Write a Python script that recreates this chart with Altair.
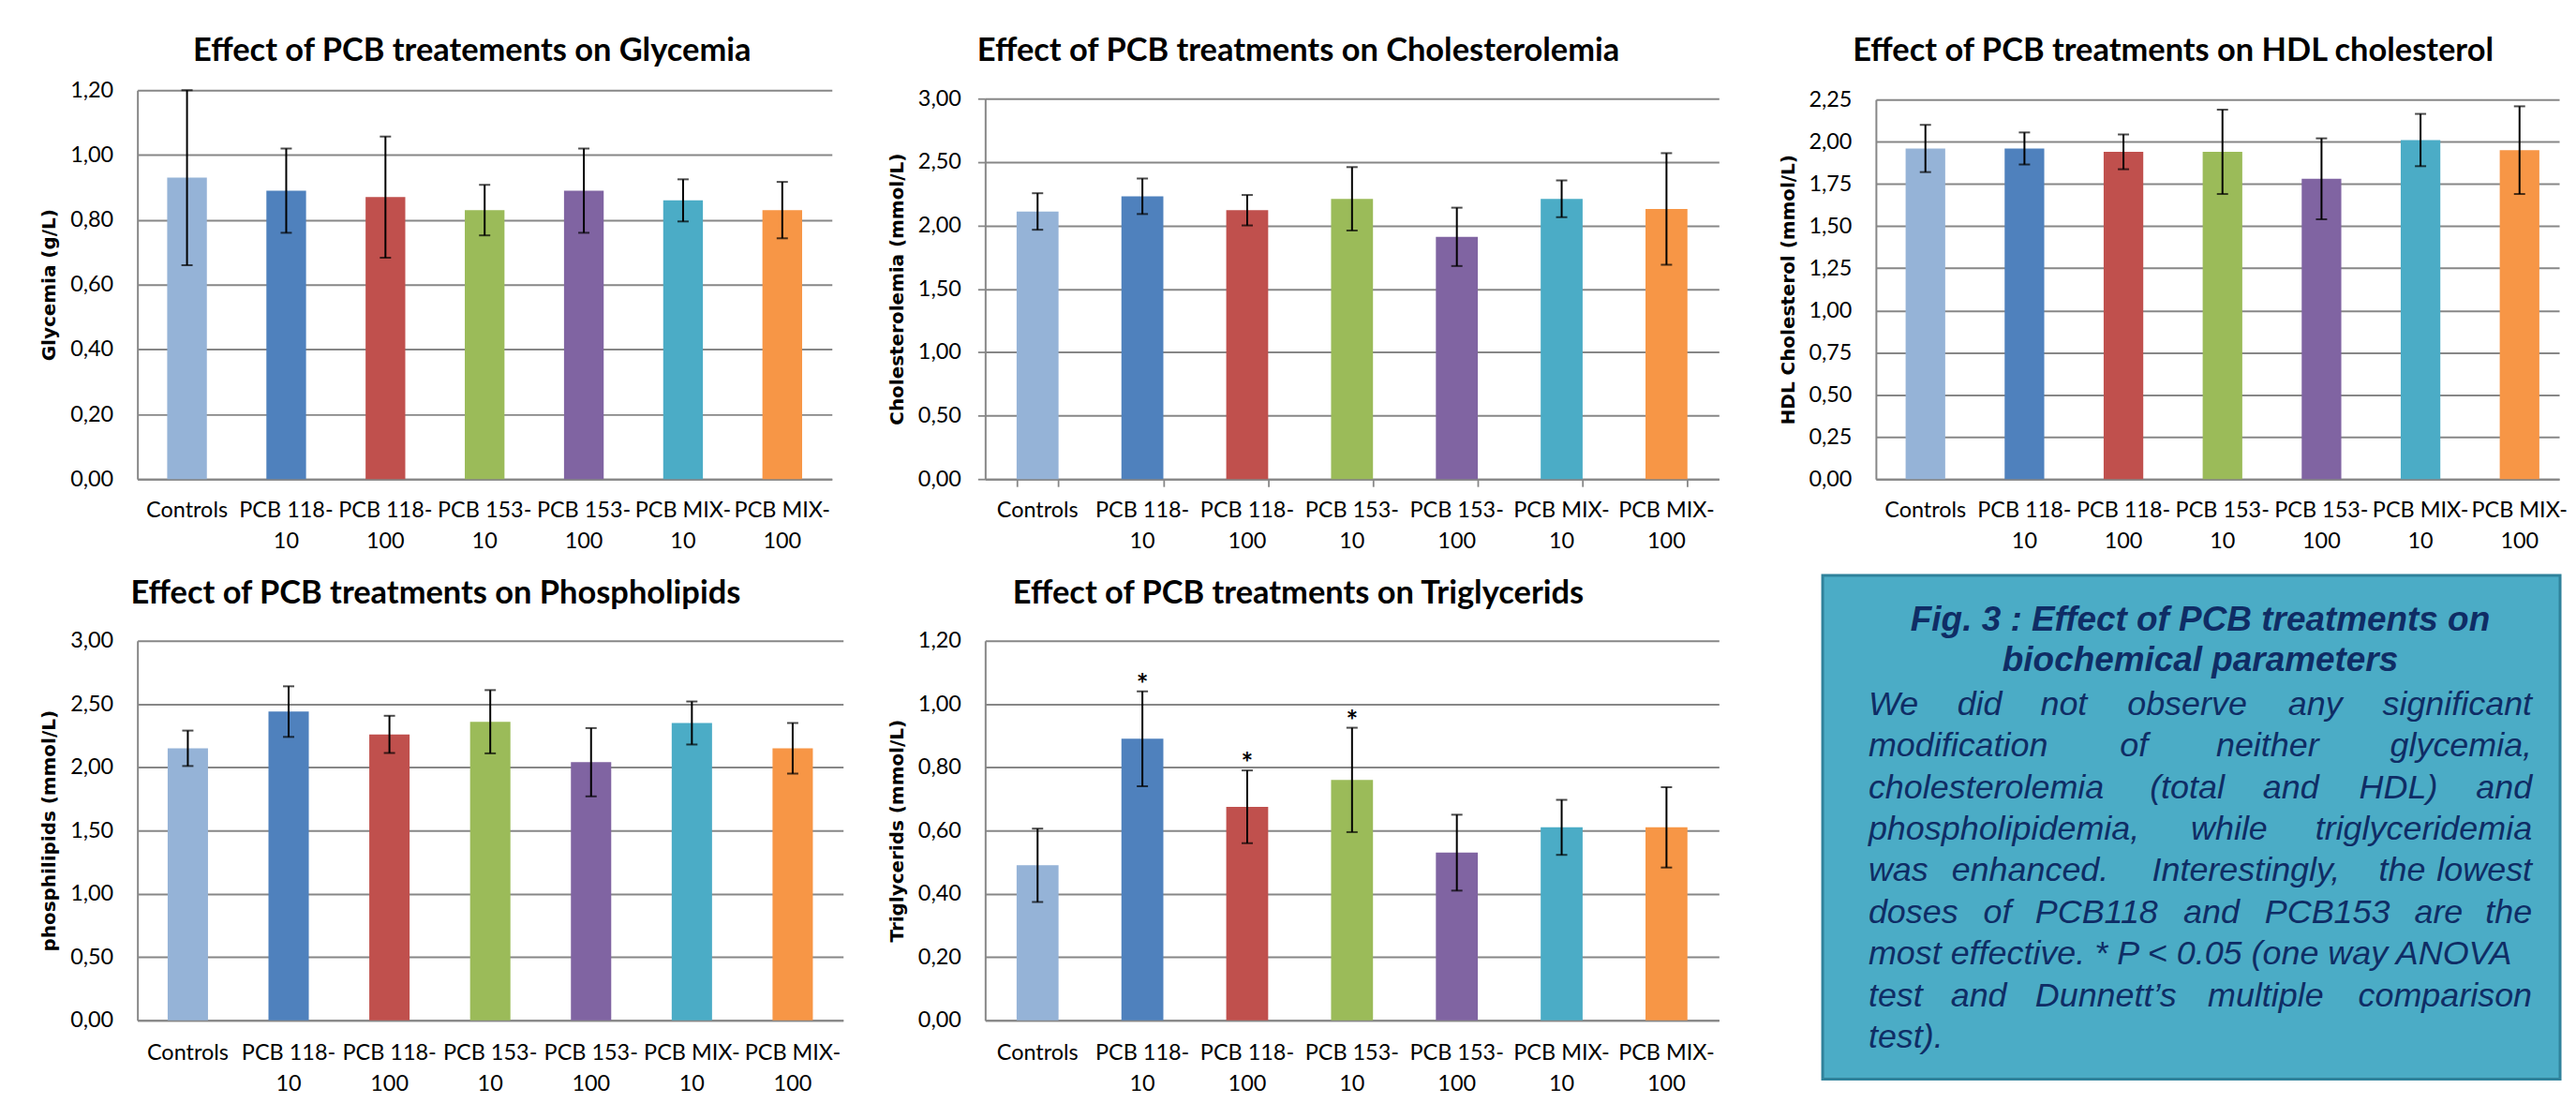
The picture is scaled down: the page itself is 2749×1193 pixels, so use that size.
import altair as alt
import pandas as pd

# ---------------- data ----------------
CATS = ["Controls", "PCB 118-10", "PCB 118-100", "PCB 153-10",
        "PCB 153-100", "PCB MIX-10", "PCB MIX-100"]
COLORS = ["#95B3D7", "#4F81BD", "#C0504D", "#9BBB59", "#8064A2", "#4BACC6", "#F79646"]

GLY_MEAN = [0.93, 0.89, 0.87, 0.83, 0.89, 0.86, 0.83]
GLY_ERR = [0.27, 0.13, 0.187, 0.078, 0.13, 0.065, 0.087]
GLY_TICKS = [0.0, 0.2, 0.4, 0.6, 0.8, 1.0, 1.2]

CHOL_MEAN = [2.11, 2.23, 2.12, 2.21, 1.91, 2.21, 2.13]
CHOL_ERR = [0.144, 0.14, 0.12, 0.25, 0.23, 0.145, 0.44]
CHOL_TICKS = [0.0, 0.5, 1.0, 1.5, 2.0, 2.5, 3.0]

HDL_MEAN = [1.96, 1.96, 1.94, 1.94, 1.78, 2.01, 1.95]
HDL_ERR = [0.14, 0.095, 0.103, 0.25, 0.24, 0.155, 0.26]
HDL_TICKS = [0.0, 0.25, 0.5, 0.75, 1.0, 1.25, 1.5, 1.75, 2.0, 2.25]

PHO_MEAN = [2.15, 2.44, 2.26, 2.36, 2.04, 2.35, 2.15]
PHO_ERR = [0.14, 0.2, 0.147, 0.25, 0.27, 0.17, 0.2]
PHO_TICKS = [0.0, 0.5, 1.0, 1.5, 2.0, 2.5, 3.0]

TRI_MEAN = [0.49, 0.89, 0.675, 0.76, 0.53, 0.61, 0.61]
TRI_ERR = [0.116, 0.15, 0.115, 0.165, 0.12, 0.087, 0.127]
TRI_STAR = [False, True, True, True, False, False, False]
TRI_TICKS = [0.0, 0.2, 0.4, 0.6, 0.8, 1.0, 1.2]

BOX_TITLE = ["Fig. 3 : Effect of PCB treatments on", "biochemical parameters"]
BOX_LINES = [
    ["We", "did", "not", "observe", "any", "significant"],
    ["modification", "of", "neither", "glycemia,"],
    ["cholesterolemia", "(total", "and", "HDL)", "and"],
    ["phospholipidemia,", "while", "triglyceridemia"],
    ["was", "enhanced.", "Interestingly,", "the", "lowest"],
    ["doses", "of", "PCB118", "and", "PCB153", "are", "the"],
    ["most effective. * P < 0.05 (one way ANOVA"],
    ["test", "and", "Dunnett\u2019s", "multiple", "comparison"],
    ["test)."],
]

# ---------------- layout / style ----------------
# word anchor x positions (page px) for the justified caption
WORD_X = [
    [1999, 2118, 2208, 2340, 2477, 2709],
    [1999, 2283, 2426, 2709],
    [1999, 2340, 2451, 2566, 2709],
    [1999, 2385, 2709],
    [1999, 2172, 2403, 2570, 2709],
    [1999, 2137, 2243, 2366, 2490, 2609, 2709],
    [1999],
    [1999, 2117, 2253, 2424, 2709],
    [1999],
]
LINE_Y0 = 765
LINE_DY = 44.6
BOX_X0, BOX_Y0 = 2007, 686   # page origin of the caption view

FONT = "Lato"
YFONT = "DejaVu Sans"
TXTFONT = "Liberation Sans"
GRID = "#878787"
TXT = "#0f2d65"
LABEL_SIZE = 23.5

COMMA = "replace(format(datum.value, '.2f'), '.', ',')"


def split_label(s):
    k = s.find("-")
    if k < 0:
        return s, ""
    return s[:k + 1], s[k + 1:]


def panel(title, ytitle, means, errs, ticks, width, height, title_dx, title_offset,
          lab_dy, yrange=None, xrange=None, tick_marks=False, stars=None,
          x_po=0.3, x_align=0.5):
    df = pd.DataFrame({
        "cat": CATS,
        "val": means,
        "lo": [m - e for m, e in zip(means, errs)],
        "hi": [m + e for m, e in zip(means, errs)],
        "star": stars if stars else [False] * len(CATS),
        "l1": [split_label(s)[0] for s in CATS],
        "l2": [split_label(s)[1] for s in CATS],
    })
    xs = dict(paddingInner=0.6, paddingOuter=x_po, align=x_align)
    if xrange:
        xs["range"] = xrange
    xscale = alt.Scale(**xs)
    ys = dict(domain=[ticks[0], ticks[-1]], nice=False, zero=True)
    if yrange:
        ys["range"] = yrange
    yscale = alt.Scale(**ys)
    tsize = 8 if tick_marks else 0
    xaxis = alt.Axis(title=None, labels=False,
                     ticks=tick_marks, tickSize=tsize, tickBand="extent",
                     tickColor=GRID, tickWidth=1.8,
                     domainColor=GRID, domainWidth=2, grid=False)
    yaxis = alt.Axis(title=ytitle, titleFont=YFONT, titleFontSize=20,
                     titleFontWeight="bold", titleColor="black",
                     titleX=-94, titleBaseline="middle",
                     values=ticks, labelExpr=COMMA, labelFont=FONT,
                     labelFontSize=LABEL_SIZE,
                     labelColor="black", labelPadding=26 - tsize,
                     ticks=tick_marks, tickSize=tsize, tickColor=GRID, tickWidth=1.8,
                     grid=True, gridColor=GRID, gridWidth=2,
                     domainColor=GRID, domainWidth=2)
    X = alt.X("cat:N", sort=CATS, scale=xscale, axis=xaxis)
    base = alt.Chart(df)
    bars = base.mark_bar().encode(
        x=X,
        y=alt.Y("val:Q", scale=yscale, axis=yaxis),
        color=alt.Color("cat:N", scale=alt.Scale(domain=CATS, range=COLORS), legend=None),
    )
    rule = base.mark_rule(color="black", strokeWidth=2).encode(
        x=X, y=alt.Y("lo:Q", scale=yscale, axis=yaxis), y2="hi:Q")
    cap_hi = base.mark_tick(color="black", thickness=2, size=12, orient="horizontal").encode(
        x=X, y=alt.Y("hi:Q", scale=yscale, axis=yaxis))
    cap_lo = base.mark_tick(color="black", thickness=2, size=12, orient="horizontal").encode(
        x=X, y=alt.Y("lo:Q", scale=yscale, axis=yaxis))
    lab1 = base.mark_text(font=FONT, fontSize=LABEL_SIZE, color="black",
                          baseline="middle").encode(
        x=X, y=alt.value(height + lab_dy[0]), text="l1:N")
    lab2 = base.mark_text(font=FONT, fontSize=LABEL_SIZE, color="black",
                          baseline="middle").encode(
        x=X, y=alt.value(height + lab_dy[1]), text="l2:N")
    layers = [bars, rule, cap_hi, cap_lo, lab1, lab2]
    if stars:
        st = base.transform_filter(alt.datum.star).mark_text(
            text="*", font=FONT, fontSize=30, fontWeight="bold", color="black",
            baseline="alphabetic", dy=3).encode(
            x=X, y=alt.Y("hi:Q", scale=yscale, axis=yaxis))
        layers.append(st)
    return alt.layer(*layers).properties(
        width=width, height=height,
        title=alt.TitleParams(text=title, font=FONT, fontSize=34.5, fontWeight="bold",
                              color="black", anchor="middle", frame="group",
                              dx=title_dx, offset=title_offset, baseline="middle"),
    )


g = panel("Effect of PCB treatements on Glycemia", "Glycemia (g/L)",
          GLY_MEAN, GLY_ERR, GLY_TICKS, 743, 416, -13.5, -5, (34, 67))
c = panel("Effect of PCB treatments on Cholesterolemia", "Cholesterolemia (mmol/L)",
          CHOL_MEAN, CHOL_ERR, CHOL_TICKS, 801, 416, -65.5, 4, (34, 67),
          yrange=[416, 9], xrange=[0, 785], tick_marks=True)
h = panel("Effect of PCB treatments on HDL cholesterol", "HDL Cholesterol (mmol/L)",
          HDL_MEAN, HDL_ERR, HDL_TICKS, 731, 416, -47.5, 5, (34, 67),
          yrange=[416, 10], x_po=0.25, x_align=0.6)
p = panel("Effect of PCB treatments on Phospholipids", "phosphilipids (mmol/L)",
          PHO_MEAN, PHO_ERR, PHO_TICKS, 755, 406, -58.5, 3.5, (35, 68))
t = panel("Effect of PCB treatments on Triglycerids", "Triglycerids (mmol/L)",
          TRI_MEAN, TRI_ERR, TRI_TICKS, 785, 406, -57.5, 3.5, (35, 68), stars=TRI_STAR)

# ---------------- caption box ----------------
rows = []
for i, (words, xs) in enumerate(zip(BOX_LINES, WORD_X)):
    for j, (w, x) in enumerate(zip(words, xs)):
        if j == 0:
            a = "left"
        elif j == len(words) - 1:
            a = "right"
        else:
            a = "center"
        rows.append({"t": w, "x": x - BOX_X0, "y": LINE_Y0 + i * LINE_DY - BOX_Y0, "a": a})
words_df = pd.DataFrame(rows)
title_df = pd.DataFrame({"t": BOX_TITLE, "x": [2354 - BOX_X0] * 2,
                         "y": [675 - BOX_Y0, 718 - BOX_Y0]})

bg = alt.Chart(pd.DataFrame({"k": [0]})).mark_rect(
    fill="#4BACC6", stroke="#2F829B", strokeWidth=3).encode(
    x=alt.value(1950 - BOX_X0), x2=alt.value(2739 - BOX_X0),
    y=alt.value(616 - BOX_Y0), y2=alt.value(1155 - BOX_Y0))
txt_layers = []
for a in ["left", "center", "right"]:
    txt_layers.append(
        alt.Chart(words_df).transform_filter(alt.datum.a == a).mark_text(
            align=a, baseline="alphabetic", font=TXTFONT, fontStyle="italic",
            fontSize=36, color=TXT).encode(
            x=alt.X("x:Q", scale=None, axis=None),
            y=alt.Y("y:Q", scale=None, axis=None),
            text="t:N"))
ttl = alt.Chart(title_df).mark_text(
    align="center", baseline="alphabetic", font=TXTFONT, fontStyle="italic",
    fontWeight="bold", fontSize=37, color=TXT).encode(
    x=alt.X("x:Q", scale=None, axis=None),
    y=alt.Y("y:Q", scale=None, axis=None),
    text="t:N")
box = alt.layer(bg, ttl, *txt_layers).properties(width=731, height=406)

chart = alt.concat(g, c, h, p, t, box, columns=3,
                   spacing={"row": 173, "column": 152}, bounds="flush").properties(
    padding={"left": 35, "top": 27, "right": 0, "bottom": 0},
    background="white",
).configure_view(stroke=None)

chart.save("out.html", embed_options={"renderer": "svg", "actions": False})
